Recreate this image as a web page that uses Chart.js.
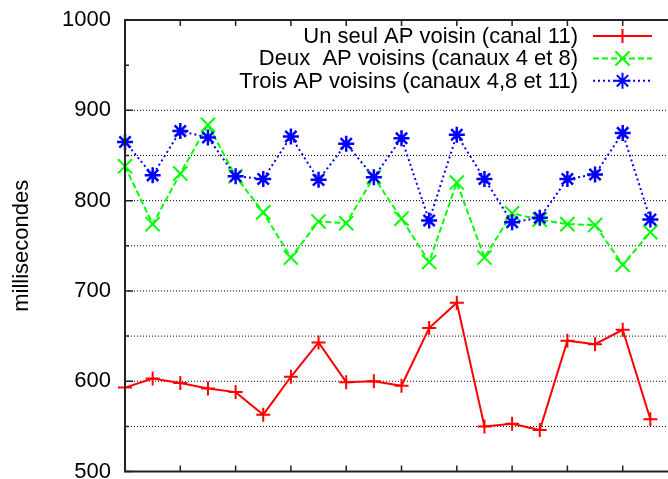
<!DOCTYPE html>
<html>
<head>
<meta charset="utf-8">
<script src="https://cdn.jsdelivr.net/npm/chart.js@4/dist/chart.umd.min.js"></script>
<style>
html, body { margin: 0; padding: 0; background: #fff; overflow: hidden; }
#wrap { width: 690px; height: 479px; }
canvas { display: block; }
</style>
</head>
<body>
<div id="wrap"><canvas id="delais" width="690" height="479"></canvas></div>
<script>
// essais (abscisse sans etiquettes)
const essais = [0, 1, 2, 3, 4, 5, 6, 7, 8, 9, 10, 11, 12, 13, 14, 15, 16, 17, 18, 19];
const unSeulAP = [593, 603, 598, 592, 588, 563, 605, 643, 599, 600, 595, 659, 687, 550, 553, 546, 645, 641, 657, 558];
const deuxAP   = [838, 774, 830, 884, 827, 787, 737, 777, 775, 826, 780, 732, 820, 737, 786, 779, 774, 773, 729, 765];
const troisAP  = [865, 828, 877, 870, 827, 824, 871, 823, 863, 826, 869, 778, 873, 824, 776, 781, 824, 829, 875, 779];
const legendes = ['Un seul AP voisin (canal 11)', 'Deux  AP voisins (canaux 4 et 8)', 'Trois AP voisins (canaux 4,8 et 11)'];
const yGraduations = [500, 550, 600, 650, 700, 750, 800, 850, 900, 950, 1000];
const yGrille = [550, 600, 650, 700, 750, 800, 850, 900];
const xGraduations = [2, 4, 6, 8, 10, 12, 14, 16, 18];

Chart.defaults.font.family = "'Liberation Sans', Arial, sans-serif";
Chart.defaults.color = '#000';

function pts(vals) { return essais.map((x, i) => ({ x: x, y: vals[i] })); }

function marque(ctx, style, r, x, y) {
  ctx.beginPath();
  if (style === 'cross' || style === 'star') {
    ctx.moveTo(x, y - r); ctx.lineTo(x, y + r);
    ctx.moveTo(x - r, y); ctx.lineTo(x + r, y);
  }
  if (style === 'crossRot' || style === 'star') {
    const d = r * Math.SQRT1_2;
    ctx.moveTo(x - d, y - d); ctx.lineTo(x + d, y + d);
    ctx.moveTo(x - d, y + d); ctx.lineTo(x + d, y - d);
  }
  ctx.stroke();
}

const cadre = {
  id: 'cadre',
  beforeDatasetsDraw(chart) {
    const { ctx, chartArea: a, scales: { y } } = chart;
    ctx.save();
    ctx.strokeStyle = '#000';
    ctx.lineWidth = 1;
    ctx.setLineDash([1, 2]);
    yGrille.forEach(v => {
      const py = y.getPixelForValue(v);
      ctx.beginPath(); ctx.moveTo(a.left, py); ctx.lineTo(chart.width, py); ctx.stroke();
    });
    ctx.restore();
  },
  afterDatasetsDraw(chart) {
    const { ctx, chartArea: a, scales: { x, y } } = chart;
    ctx.save();
    ctx.strokeStyle = '#222';
    ctx.lineWidth = 2;
    ctx.beginPath();
    ctx.moveTo(chart.width, a.top); ctx.lineTo(a.left, a.top);
    ctx.lineTo(a.left, a.bottom); ctx.lineTo(chart.width, a.bottom);
    ctx.stroke();
    ctx.lineWidth = 1.5;
    ctx.beginPath();
    xGraduations.forEach(v => {
      const px = x.getPixelForValue(v);
      ctx.moveTo(px, a.bottom); ctx.lineTo(px, a.bottom - 6);
      ctx.moveTo(px, a.top); ctx.lineTo(px, a.top + 6);
    });
    yGraduations.forEach(v => {
      const py = y.getPixelForValue(v);
      const len = v % 100 === 0 ? 8 : 4;
      ctx.moveTo(a.left, py); ctx.lineTo(a.left + len, py);
    });
    ctx.stroke();

    // legende
    ctx.font = "22px 'Liberation Sans', Arial, sans-serif";
    ctx.textAlign = 'right';
    ctx.textBaseline = 'middle';
    chart.data.datasets.forEach((ds, i) => {
      const ry = a.top + 16 + i * 22.4;
      ctx.fillStyle = '#000';
      ctx.fillText(legendes[i], 578, ry + 1);
      ctx.strokeStyle = ds.borderColor;
      ctx.lineWidth = 2;
      ctx.setLineDash(ds.borderDash || []);
      ctx.beginPath(); ctx.moveTo(593, ry); ctx.lineTo(652, ry); ctx.stroke();
      ctx.setLineDash([]);
      marque(ctx, ds.pointStyle, ds.pointRadius, 622.5, ry);
    });
    ctx.restore();
  }
};

new Chart(document.getElementById('delais'), {
  type: 'line',
  data: {
    datasets: [
      { label: legendes[0], data: pts(unSeulAP), borderColor: '#ff0000', pointBorderColor: '#ff0000',
        borderWidth: 2, pointStyle: 'cross', pointRadius: 7, pointBorderWidth: 2, order: 3, clip: false },
      { label: legendes[1], data: pts(deuxAP), borderColor: '#00ff00', pointBorderColor: '#00ff00',
        borderWidth: 2, borderDash: [6, 3], pointStyle: 'crossRot', pointRadius: 10, pointBorderWidth: 2, order: 2, clip: false },
      { label: legendes[2], data: pts(troisAP), borderColor: '#0000ff', pointBorderColor: '#0000ff',
        borderWidth: 2, borderDash: [2, 3], pointStyle: 'star', pointRadius: 8, pointBorderWidth: 2.5, order: 1, clip: false }
    ]
  },
  options: {
    responsive: false,
    animation: false,
    devicePixelRatio: 1,
    layout: { autoPadding: false, padding: { top: 20, right: 12, bottom: 7.4, left: 0 } },
    plugins: { legend: { display: false }, tooltip: { enabled: false } },
    elements: { line: { tension: 0, fill: false } },
    scales: {
      x: { type: 'linear', min: 0, max: 20, display: false },
      y: {
        min: 500, max: 1000,
        afterBuildTicks: s => { s.ticks = yGraduations.map(v => ({ value: v })); },
        afterFit: s => { s.width = 125; s.paddingTop = 0; s.paddingBottom = 0; },
        ticks: { callback: v => (v % 100 === 0 ? v : ''), font: { size: 22 }, color: '#000', padding: 14, autoSkip: false },
        grid: { display: false, drawTicks: false },
        border: { display: false },
        title: { display: true, text: 'millisecondes', font: { size: 22 }, color: '#000', padding: { top: 9, bottom: 0 } }
      }
    }
  },
  plugins: [cadre]
});
</script>
</body>
</html>
